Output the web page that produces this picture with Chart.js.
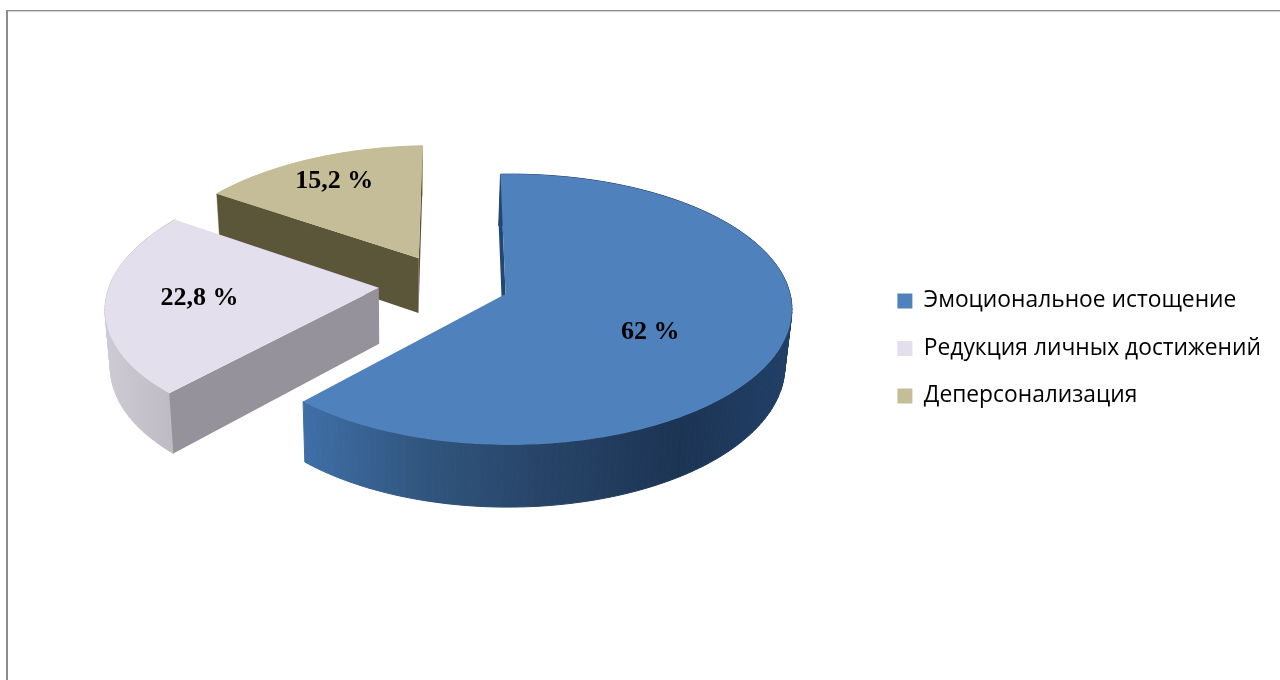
<!DOCTYPE html>
<html lang="ru">
<head>
<meta charset="utf-8">
<title>Синдром выгорания</title>
<script src="https://cdn.jsdelivr.net/npm/chart.js@4/dist/chart.umd.js"></script>
<style>
  html, body { margin: 0; padding: 0; background: #fff; }
  canvas { display: block; }
</style>
</head>
<body>
<canvas id="pie" width="1280" height="680"></canvas>
<script>
// Burnout components
const categories = ['Эмоциональное истощение', 'Редукция личных достижений', 'Деперсонализация'];
const shares = [62, 22.8, 15.2];

// Slice appearance
const topColors = ['#4F81BD', '#E4DFEC', '#C4BD97'];
const cutWallColors = ['#234672', '#96929C', '#5B5539'];
const rimStops = [
  [[303, '#3F6FA8'], [420, '#31567F'], [540, '#274468'], [680, '#1C3454'], [790, '#203F66']],
  [[100, '#CFCCD5'], [175, '#BDBAC3']],
  [[200, '#C4BD97'], [430, '#C4BD97']]
];
const sliceOffsets = [67, 73, 67];
const labelSweep = [0.54, 0.5, 0.5];
const labelReach = [0.57, 0.655, 0.76];

// Tilted-disc projection: unit-disc coordinates (u right, v towards the viewer) to canvas pixels
const tilt = { a: 269.7, b: -51.4, c: 446.7, d: -7, e: 98.8, f: 283.7, g: -0.0134, h: -0.1126 };
function project(u, v) {
  const w = 1 + tilt.g * u + tilt.h * v;
  return { x: (tilt.a * u + tilt.b * v + tilt.c) / w, y: (tilt.d * u + tilt.e * v + tilt.f) / w };
}
// The underside of the disc, slightly smaller because it lies further from the eye
function drop(p) {
  return { x: 0.982 * p.x + 7.2, y: 1.04 * p.y + 44.5 };
}

function trace(ctx, pts) {
  ctx.beginPath();
  pts.forEach((p, i) => (i ? ctx.lineTo(p.x, p.y) : ctx.moveTo(p.x, p.y)));
  ctx.closePath();
}
function signedArea(pts) {
  let s = 0;
  pts.forEach((p, i) => {
    const q = pts[(i + 1) % pts.length];
    s += p.x * q.y - q.x * p.y;
  });
  return s;
}

class Pie3DController extends Chart.DoughnutController {
  static id = 'pie3d';
  static defaults = { cutout: 0, rotation: 0, circumference: 360, radius: '100%' };

  sliceGeometry(el) {
    const R = el.outerRadius;
    const mid = (el.startAngle + el.endAngle) / 2;
    const o = (el.options.offset || 0) / R;
    const ou = o * Math.cos(mid), ov = o * Math.sin(mid);
    const steps = Math.max(8, Math.round((el.endAngle - el.startAngle) * 40));
    const rim = [];
    for (let s = 0; s <= steps; s++) {
      const t = el.startAngle + (el.endAngle - el.startAngle) * s / steps;
      rim.push(project(ou + Math.cos(t), ov + Math.sin(t)));
    }
    return { apex: project(ou, ov), rim, ou, ov };
  }

  drawSlice(ctx, el, i) {
    const { apex, rim } = this.sliceGeometry(el);
    const last = rim[rim.length - 1], first = rim[0];

    // curved outer wall
    const stops = rimStops[i];
    const grad = ctx.createLinearGradient(stops[0][0], 0, stops[stops.length - 1][0], 0);
    const span = stops[stops.length - 1][0] - stops[0][0];
    stops.forEach(([x, c]) => grad.addColorStop((x - stops[0][0]) / span, c));
    ctx.fillStyle = grad;
    ctx.strokeStyle = grad;
    ctx.lineWidth = 1;
    for (let s = 0; s < rim.length - 1; s++) {
      trace(ctx, [rim[s], rim[s + 1], drop(rim[s + 1]), drop(rim[s])]);
      ctx.fill();
      ctx.stroke();
    }

    // flat cut faces, only those turned towards the viewer
    ctx.fillStyle = cutWallColors[i];
    [[first, -1], [last, 1]].forEach(([corner, side]) => {
      const quad = [apex, corner, drop(corner), drop(apex)];
      if (signedArea(quad) * side > 300) {
        trace(ctx, quad);
        ctx.fill();
      }
    });

    // top face
    trace(ctx, [apex, ...rim]);
    ctx.fillStyle = el.options.backgroundColor;
    ctx.fill();
  }

  draw() {
    const ctx = this.chart.ctx;
    const arcs = this._cachedMeta.data;
    ctx.save();
    // far slices first so the nearer ones cover them
    for (let i = arcs.length - 1; i >= 0; i--) this.drawSlice(ctx, arcs[i], i);

    ctx.fillStyle = '#000';
    ctx.font = 'bold 26px "Liberation Serif"';
    ctx.textAlign = 'center';
    ctx.textBaseline = 'middle';
    arcs.forEach((el, i) => {
      const { ou, ov } = this.sliceGeometry(el);
      const t = el.startAngle + (el.endAngle - el.startAngle) * labelSweep[i];
      const r = labelReach[i];
      const p = project(ou + r * Math.cos(t), ov + r * Math.sin(t));
      ctx.fillText(String(shares[i]).replace('.', ',') + ' %', p.x, p.y);
    });
    ctx.restore();
  }
}
Chart.register(Pie3DController);

// Thin frame along the top and left edges
const framePlugin = {
  id: 'frame',
  beforeDraw(chart) {
    const ctx = chart.ctx;
    ctx.save();
    ctx.fillStyle = '#fff';
    ctx.fillRect(0, 0, chart.width, chart.height);
    ctx.fillStyle = '#8C8C8C';
    ctx.fillRect(6, 10, chart.width - 6, 1);
    ctx.fillRect(6, 10, 2, chart.height - 10);
    ctx.fillStyle = '#D4D4D4';
    ctx.fillRect(8, 11, chart.width - 8, 1);
    ctx.restore();
  }
};

new Chart(document.getElementById('pie'), {
  type: 'pie3d',
  data: {
    labels: categories,
    datasets: [{ data: shares, backgroundColor: topColors, borderWidth: 0, offset: sliceOffsets }]
  },
  options: {
    responsive: false,
    animation: false,
    events: [],
    layout: { padding: { top: 17, right: 9 } },
    plugins: {
      tooltip: { enabled: false },
      legend: {
        position: 'right',
        align: 'center',
        labels: {
          boxWidth: 15,
          boxHeight: 15,
          padding: 24.7,
          color: '#000',
          font: { family: '"Open Sans"', size: 22.8 }
        }
      }
    }
  },
  plugins: [framePlugin]
});
</script>
</body>
</html>
